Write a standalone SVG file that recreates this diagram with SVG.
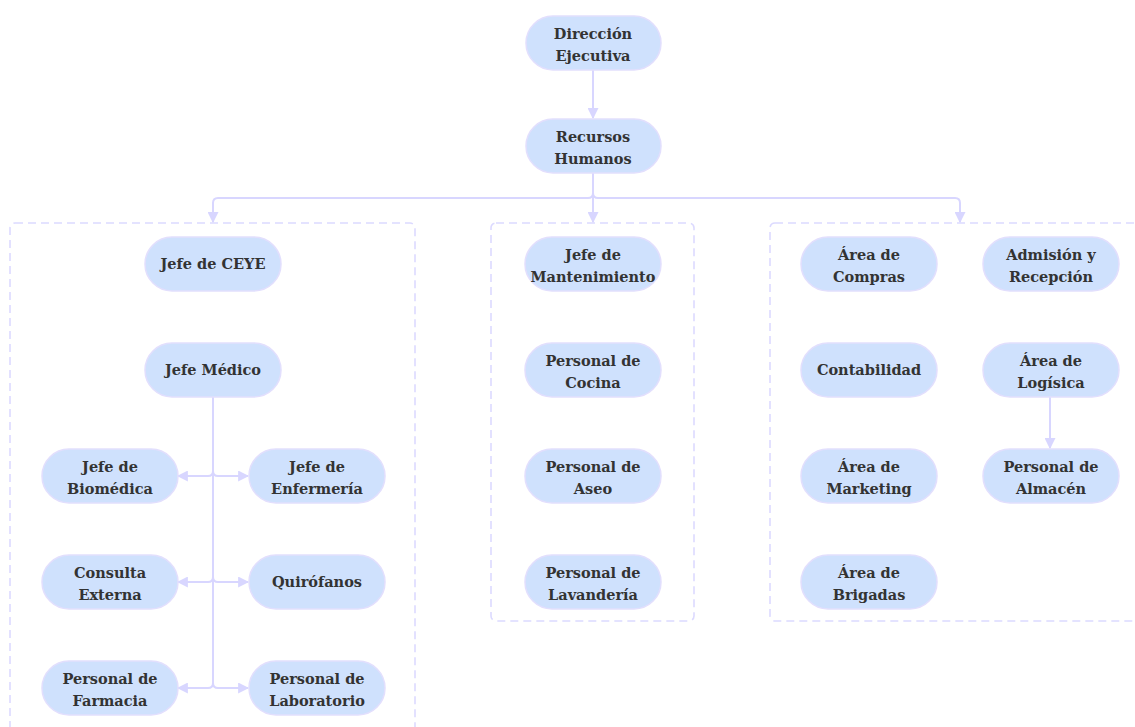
<svg xmlns="http://www.w3.org/2000/svg" width="1135" height="727" viewBox="0 0 1135 727">
<style>
.n rect{fill:#cfe1fd;stroke:#e2dffd;stroke-width:1.5}
.n text{font-family:"DejaVu Serif",serif;font-weight:bold;font-size:14.5px;fill:#333;text-anchor:middle}
.c{fill:none;stroke:#dcdaff;stroke-width:1.6;stroke-dasharray:8 5}
.e path,.e line{fill:none;stroke:#d8d6ff;stroke-width:2}
</style>
<defs>
<marker id="a" viewBox="0 0 10 10" refX="9" refY="5" markerWidth="11" markerHeight="11" markerUnits="userSpaceOnUse" orient="auto">
<path d="M0,0 L10,5 L0,10 z" fill="#d8d6ff"/>
</marker>
</defs>
<rect width="1135" height="727" fill="#fff"/>
<g id="clusters">
<rect class="c" x="10" y="223" width="405" height="530" rx="5"/>
<rect class="c" x="491" y="223" width="203" height="398" rx="5"/>
<rect class="c" x="770" y="223" width="390" height="398" rx="5"/>
</g>
<g id="connectors" class="e">
<path d="M593,70 V118" marker-end="url(#a)"/>
<path d="M593,173 V193 Q593,198 588,198 H218 Q213,198 213,203 V222" marker-end="url(#a)"/>
<path d="M593,173 V222" marker-end="url(#a)"/>
<path d="M593,173 V193 Q593,198 598,198 H955 Q960,198 960,203 V222" marker-end="url(#a)"/>
<path d="M213,397 V471 Q213,476 208,476 H178" marker-end="url(#a)"/>
<path d="M213,397 V471 Q213,476 218,476 H248" marker-end="url(#a)"/>
<path d="M213,397 V577 Q213,582 208,582 H178" marker-end="url(#a)"/>
<path d="M213,397 V577 Q213,582 218,582 H248" marker-end="url(#a)"/>
<path d="M213,397 V683 Q213,688 208,688 H178" marker-end="url(#a)"/>
<path d="M213,397 V683 Q213,688 218,688 H248" marker-end="url(#a)"/>
<path d="M1050,397 V448" marker-end="url(#a)"/>
</g>
<g id="n-direccion" class="n"><rect x="526" y="16" width="135" height="54" rx="27"/><text x="593" y="39">Dirección</text><text x="593" y="61">Ejecutiva</text></g>
<g id="n-rrhh" class="n"><rect x="526" y="119" width="135" height="54" rx="27"/><text x="593" y="142">Recursos</text><text x="593" y="164">Humanos</text></g>
<g id="n-ceye" class="n"><rect x="145" y="237" width="136" height="54" rx="27"/><text x="213" y="269">Jefe de CEYE</text></g>
<g id="n-medico" class="n"><rect x="145" y="343" width="136" height="54" rx="27"/><text x="213" y="375">Jefe Médico</text></g>
<g id="n-biomedica" class="n"><rect x="42" y="449" width="136" height="54" rx="27"/><text x="110" y="472">Jefe de</text><text x="110" y="494">Biomédica</text></g>
<g id="n-enfermeria" class="n"><rect x="249" y="449" width="136" height="54" rx="27"/><text x="317" y="472">Jefe de</text><text x="317" y="494">Enfermería</text></g>
<g id="n-consulta" class="n"><rect x="42" y="555" width="136" height="54" rx="27"/><text x="110" y="578">Consulta</text><text x="110" y="600">Externa</text></g>
<g id="n-quirofanos" class="n"><rect x="249" y="555" width="136" height="54" rx="27"/><text x="317" y="587">Quirófanos</text></g>
<g id="n-farmacia" class="n"><rect x="42" y="661" width="136" height="54" rx="27"/><text x="110" y="684">Personal de</text><text x="110" y="706">Farmacia</text></g>
<g id="n-laboratorio" class="n"><rect x="249" y="661" width="136" height="54" rx="27"/><text x="317" y="684">Personal de</text><text x="317" y="706">Laboratorio</text></g>
<g id="n-mantenimiento" class="n"><rect x="525" y="237" width="136" height="54" rx="27"/><text x="593" y="260">Jefe de</text><text x="593" y="282">Mantenimiento</text></g>
<g id="n-cocina" class="n"><rect x="525" y="343" width="136" height="54" rx="27"/><text x="593" y="366">Personal de</text><text x="593" y="388">Cocina</text></g>
<g id="n-aseo" class="n"><rect x="525" y="449" width="136" height="54" rx="27"/><text x="593" y="472">Personal de</text><text x="593" y="494">Aseo</text></g>
<g id="n-lavanderia" class="n"><rect x="525" y="555" width="136" height="54" rx="27"/><text x="593" y="578">Personal de</text><text x="593" y="600">Lavandería</text></g>
<g id="n-compras" class="n"><rect x="801" y="237" width="136" height="54" rx="27"/><text x="869" y="260">Área de</text><text x="869" y="282">Compras</text></g>
<g id="n-admision" class="n"><rect x="983" y="237" width="136" height="54" rx="27"/><text x="1051" y="260">Admisión y</text><text x="1051" y="282">Recepción</text></g>
<g id="n-contabilidad" class="n"><rect x="801" y="343" width="136" height="54" rx="27"/><text x="869" y="375">Contabilidad</text></g>
<g id="n-logistica" class="n"><rect x="983" y="343" width="136" height="54" rx="27"/><text x="1051" y="366">Área de</text><text x="1051" y="388">Logísica</text></g>
<g id="n-marketing" class="n"><rect x="801" y="449" width="136" height="54" rx="27"/><text x="869" y="472">Área de</text><text x="869" y="494">Marketing</text></g>
<g id="n-almacen" class="n"><rect x="983" y="449" width="136" height="54" rx="27"/><text x="1051" y="472">Personal de</text><text x="1051" y="494">Almacén</text></g>
<g id="n-brigadas" class="n"><rect x="801" y="555" width="136" height="54" rx="27"/><text x="869" y="578">Área de</text><text x="869" y="600">Brigadas</text></g>
</svg>
